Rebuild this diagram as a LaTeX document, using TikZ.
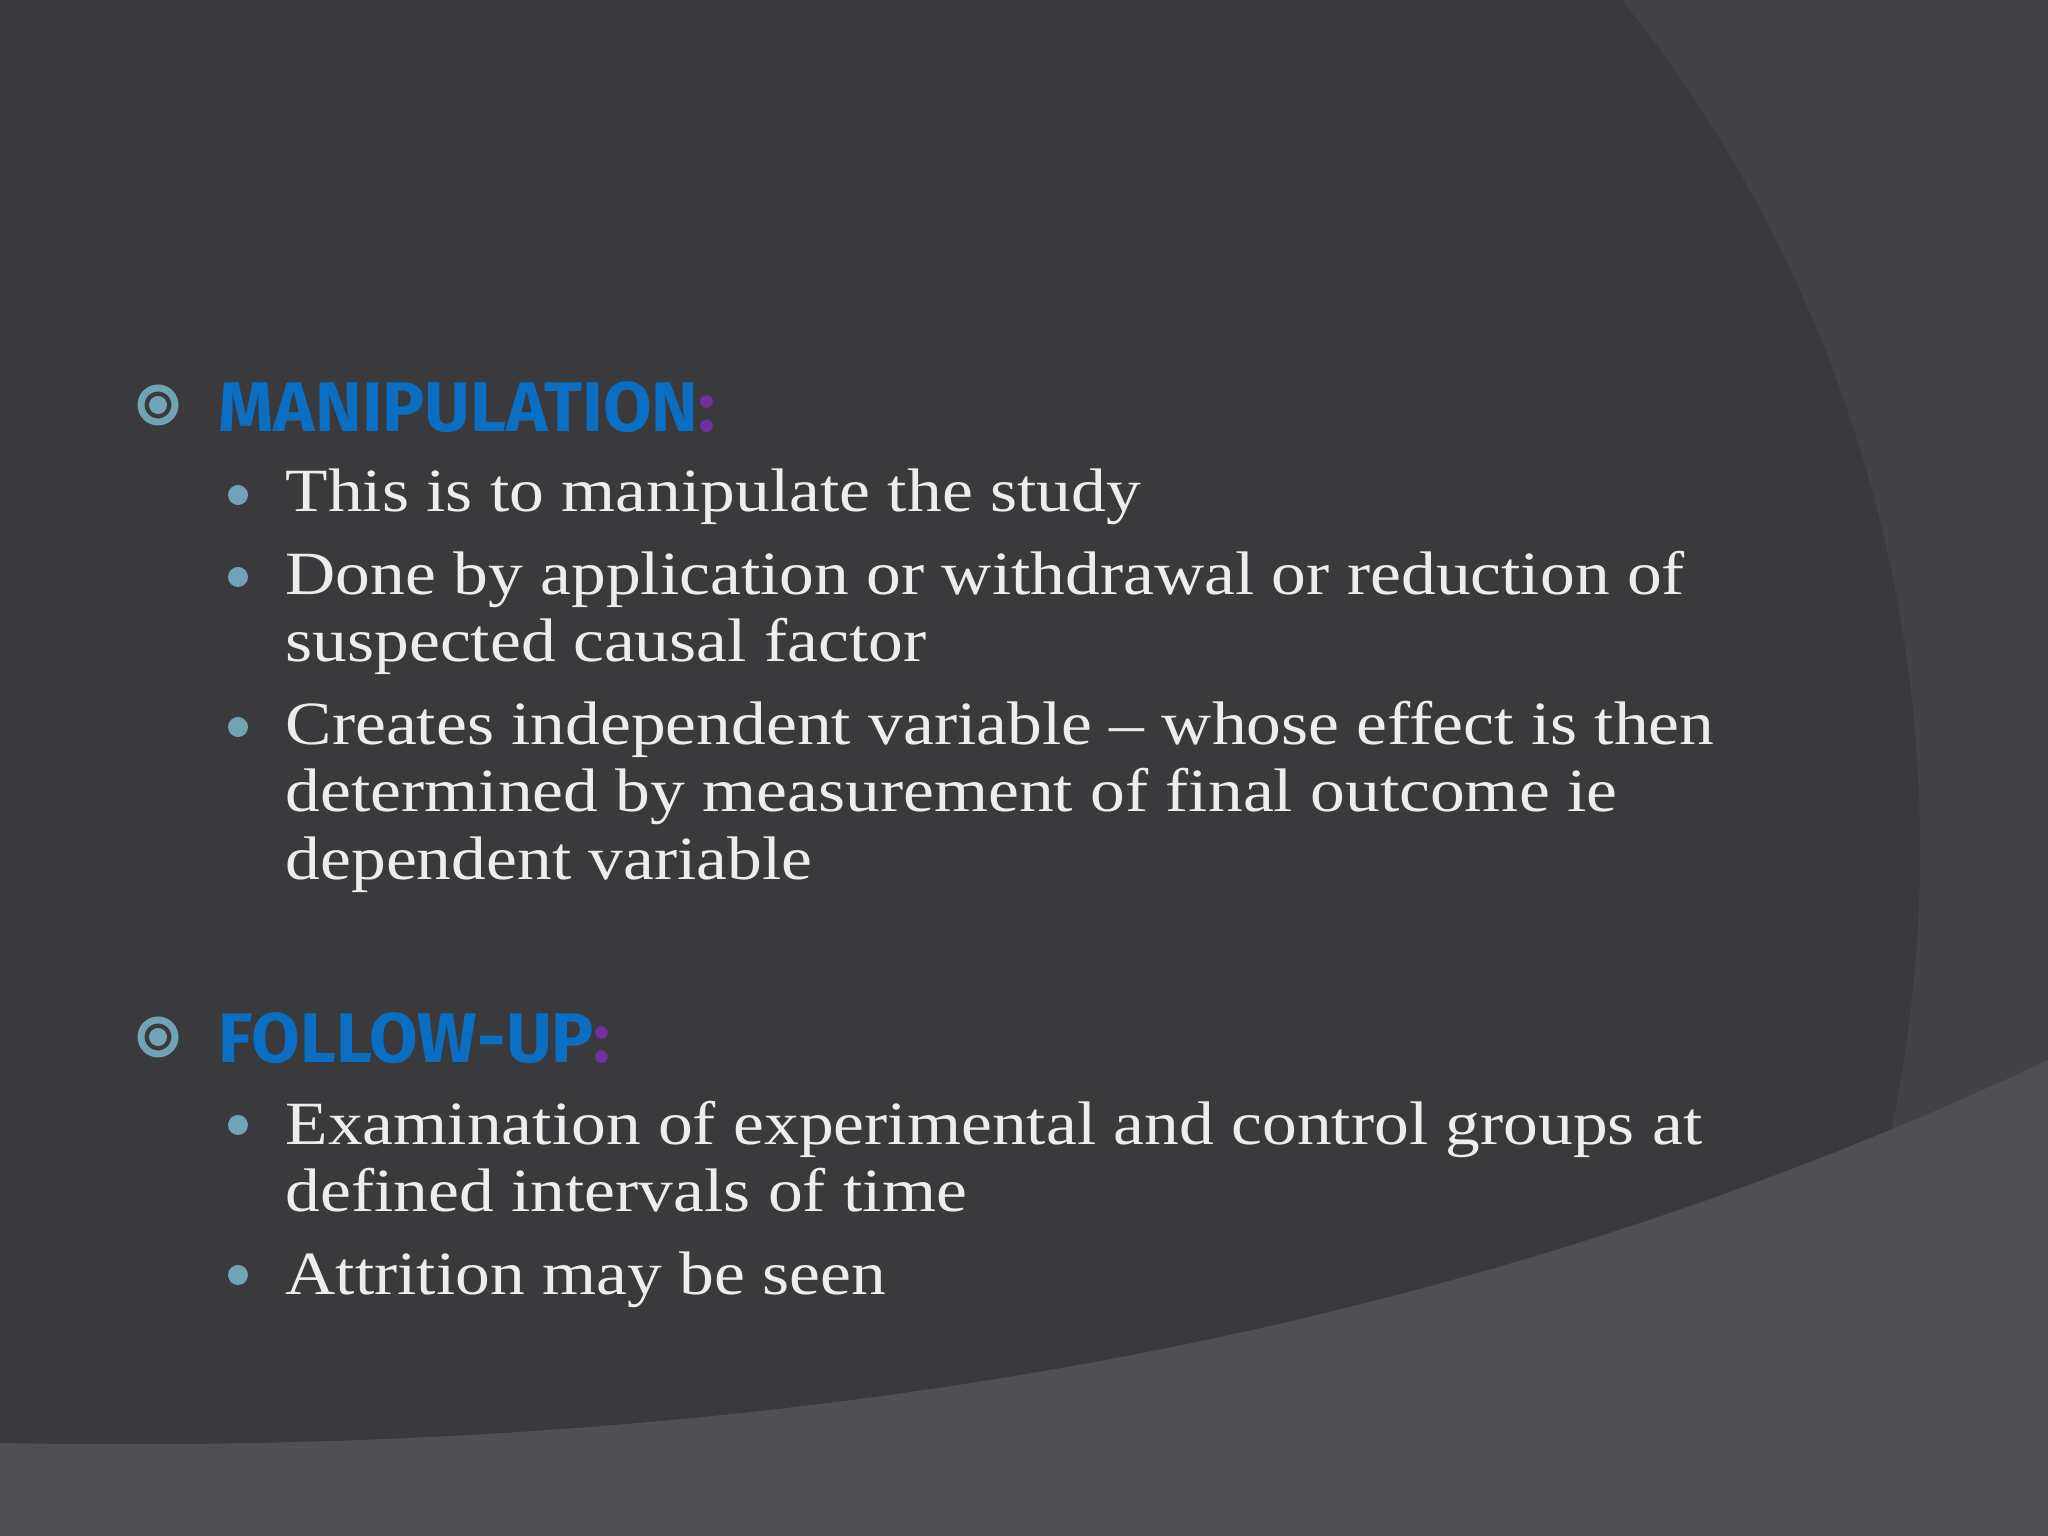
\documentclass[tikz,border=0pt]{standalone}
\usepackage{fontspec}
\setmainfont[FakeStretch=1.13]{Liberation Serif}
\newfontfamily\headfont{Fira Sans}
\definecolor{bgdark}{HTML}{3A3A3C}
\definecolor{bgmid}{HTML}{434345}
\definecolor{bglight}{HTML}{504F52}
\definecolor{headblue}{HTML}{0A6FC2}
\definecolor{bulcol}{HTML}{6FA3B5}
\definecolor{colpurple}{HTML}{7030A0}
\tikzset{
 body/.style={anchor=base west,inner sep=0pt,text=white!93!black,font=\fontsize{17.5}{20}\selectfont},
 head/.style={anchor=base west,inner sep=0pt,text=headblue,font=\headfont\fontsize{20}{22}\selectfont\bfseries},
 dotb/.style={fill=bulcol,draw=none,circle,minimum size=0.2cm,inner sep=0pt}
}
\begin{document}
\begin{tikzpicture}
\useasboundingbox (0,0) rectangle (20.48,15.36);
\fill[bgmid] (0,0) rectangle (20.48,15.36);
\fill[bgdark] (5.6,6.86) circle (13.6);
\fill[bglight] (0,0) -- (0,0.93) .. controls (7,0.8) and (14,1.7) .. (20.48,4.76) -- (20.48,0) -- cycle;
% headings
\foreach \y/\n in {11.31/b1,4.99/b2}{
 \draw[bulcol,line width=0.07cm] (1.58,\y) circle (0.17);
 \fill[bulcol] (1.58,\y) circle (0.09);
}
\node[head] (h1) at (2.18,11.04) {MANIPULATION\textcolor{colpurple}{:}};
\node[head] (h2) at (2.18,4.73) {FOLLOW-UP\textcolor{colpurple}{:}};
% bullets
\foreach \y in {10.41,9.59,8.09,4.11,2.61}{\node[dotb] at (2.38,\y) {};}
\node[body] (l1) at (2.85,10.24) {This is to manipulate the study};
\node[body] (l2) at (2.85,9.41) {Done by application or withdrawal or reduction of};
\node[body] (l3) at (2.85,8.74) {suspected causal factor};
\node[body] (l4) at (2.85,7.91) {Creates independent variable -- whose effect is then};
\node[body] (l5) at (2.85,7.24) {determined by measurement of final outcome ie};
\node[body] (l6) at (2.85,6.56) {dependent variable};
\node[body] (l7) at (2.85,3.91) {Examination of experimental and control groups at};
\node[body] (l8) at (2.85,3.24) {defined intervals of time};
\node[body] (l9) at (2.85,2.41) {Attrition may be seen};
\end{tikzpicture}
\end{document}
